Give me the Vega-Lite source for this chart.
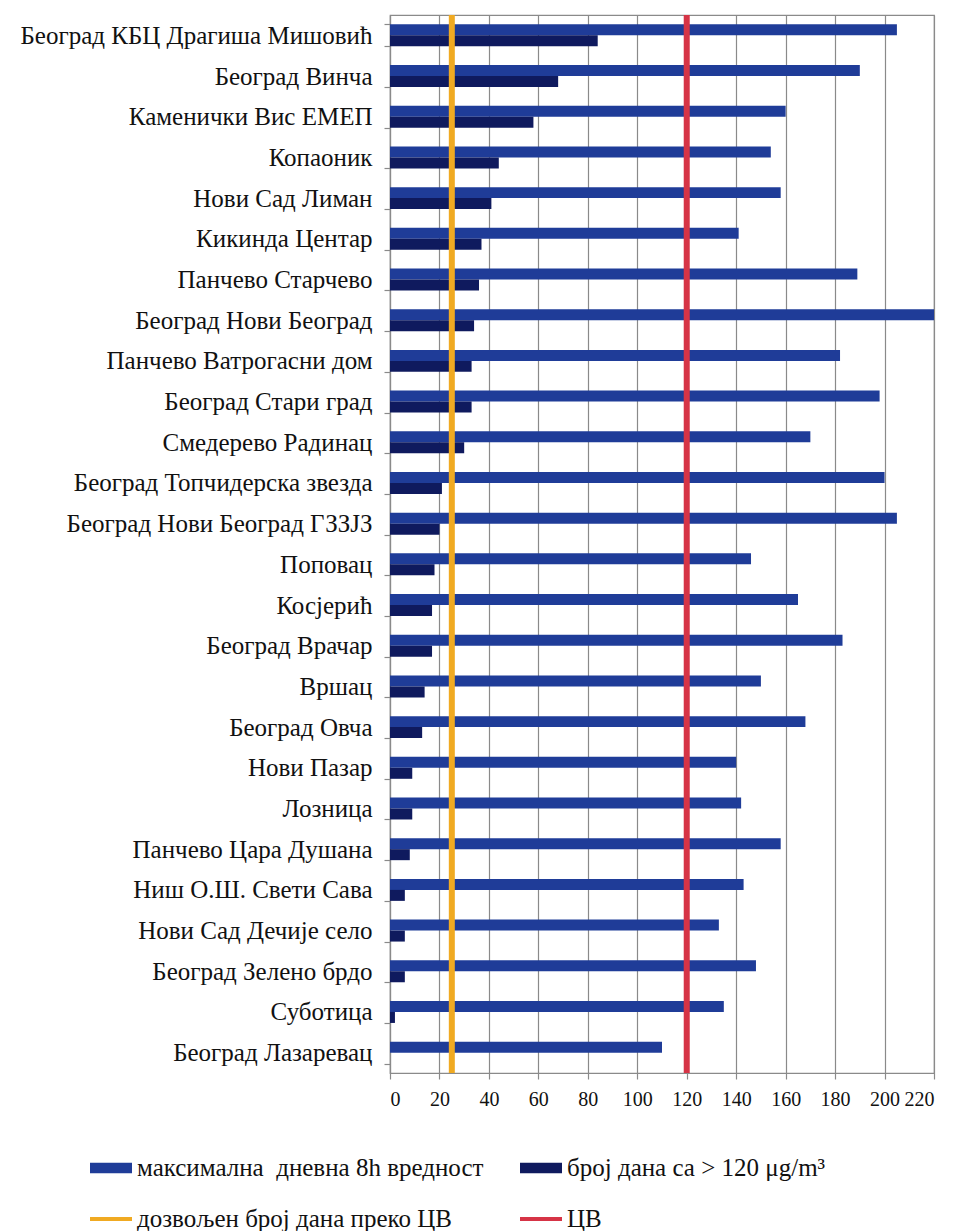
{
  "$schema": "https://vega.github.io/schema/vega-lite/v6.json",
  "width": 544,
  "height": 1058,
  "autosize": {"type": "none"},
  "padding": {"left": 390, "top": 15, "right": 21, "bottom": 158},
  "background": "white",
  "config": {
    "font": "Liberation Serif",
    "view": {"stroke": "#8a8a8a", "strokeWidth": 1.2},
    "axis": {"labelFont": "Liberation Serif", "labelColor": "#111111", "domainColor": "#8a8a8a", "tickColor": "#8a8a8a", "domainWidth": 1.2, "tickWidth": 1.2},
    "legend": {"labelFont": "Liberation Serif"}
  },
  "datasets": {
    "bars": [
      {"station": "Београд КБЦ Драгиша Мишовић", "series": "максимална\u00a0 дневна 8h вредност", "value": 205},
      {"station": "Београд КБЦ Драгиша Мишовић", "series": "број дана са  > 120 μg/m³", "value": 84},
      {"station": "Београд Винча", "series": "максимална\u00a0 дневна 8h вредност", "value": 190},
      {"station": "Београд Винча", "series": "број дана са  > 120 μg/m³", "value": 68},
      {"station": "Каменички Вис ЕМЕП", "series": "максимална\u00a0 дневна 8h вредност", "value": 160},
      {"station": "Каменички Вис ЕМЕП", "series": "број дана са  > 120 μg/m³", "value": 58},
      {"station": "Копаоник", "series": "максимална\u00a0 дневна 8h вредност", "value": 154},
      {"station": "Копаоник", "series": "број дана са  > 120 μg/m³", "value": 44},
      {"station": "Нови Сад Лиман", "series": "максимална\u00a0 дневна 8h вредност", "value": 158},
      {"station": "Нови Сад Лиман", "series": "број дана са  > 120 μg/m³", "value": 41},
      {"station": "Кикинда Центар", "series": "максимална\u00a0 дневна 8h вредност", "value": 141},
      {"station": "Кикинда Центар", "series": "број дана са  > 120 μg/m³", "value": 37},
      {"station": "Панчево Старчево", "series": "максимална\u00a0 дневна 8h вредност", "value": 189},
      {"station": "Панчево Старчево", "series": "број дана са  > 120 μg/m³", "value": 36},
      {"station": "Београд Нови Београд", "series": "максимална\u00a0 дневна 8h вредност", "value": 220},
      {"station": "Београд Нови Београд", "series": "број дана са  > 120 μg/m³", "value": 34},
      {"station": "Панчево Ватрогасни дом", "series": "максимална\u00a0 дневна 8h вредност", "value": 182},
      {"station": "Панчево Ватрогасни дом", "series": "број дана са  > 120 μg/m³", "value": 33},
      {"station": "Београд Стари град", "series": "максимална\u00a0 дневна 8h вредност", "value": 198},
      {"station": "Београд Стари град", "series": "број дана са  > 120 μg/m³", "value": 33},
      {"station": "Смедерево Радинац", "series": "максимална\u00a0 дневна 8h вредност", "value": 170},
      {"station": "Смедерево Радинац", "series": "број дана са  > 120 μg/m³", "value": 30},
      {"station": "Београд Топчидерска звезда", "series": "максимална\u00a0 дневна 8h вредност", "value": 200},
      {"station": "Београд Топчидерска звезда", "series": "број дана са  > 120 μg/m³", "value": 21},
      {"station": "Београд Нови Београд ГЗЗЈЗ", "series": "максимална\u00a0 дневна 8h вредност", "value": 205},
      {"station": "Београд Нови Београд ГЗЗЈЗ", "series": "број дана са  > 120 μg/m³", "value": 20},
      {"station": "Поповац", "series": "максимална\u00a0 дневна 8h вредност", "value": 146},
      {"station": "Поповац", "series": "број дана са  > 120 μg/m³", "value": 18},
      {"station": "Косјерић", "series": "максимална\u00a0 дневна 8h вредност", "value": 165},
      {"station": "Косјерић", "series": "број дана са  > 120 μg/m³", "value": 17},
      {"station": "Београд Врачар", "series": "максимална\u00a0 дневна 8h вредност", "value": 183},
      {"station": "Београд Врачар", "series": "број дана са  > 120 μg/m³", "value": 17},
      {"station": "Вршац", "series": "максимална\u00a0 дневна 8h вредност", "value": 150},
      {"station": "Вршац", "series": "број дана са  > 120 μg/m³", "value": 14},
      {"station": "Београд Овча", "series": "максимална\u00a0 дневна 8h вредност", "value": 168},
      {"station": "Београд Овча", "series": "број дана са  > 120 μg/m³", "value": 13},
      {"station": "Нови Пазар", "series": "максимална\u00a0 дневна 8h вредност", "value": 140},
      {"station": "Нови Пазар", "series": "број дана са  > 120 μg/m³", "value": 9},
      {"station": "Лозница", "series": "максимална\u00a0 дневна 8h вредност", "value": 142},
      {"station": "Лозница", "series": "број дана са  > 120 μg/m³", "value": 9},
      {"station": "Панчево Цара Душана", "series": "максимална\u00a0 дневна 8h вредност", "value": 158},
      {"station": "Панчево Цара Душана", "series": "број дана са  > 120 μg/m³", "value": 8},
      {"station": "Ниш О.Ш. Свети Сава", "series": "максимална\u00a0 дневна 8h вредност", "value": 143},
      {"station": "Ниш О.Ш. Свети Сава", "series": "број дана са  > 120 μg/m³", "value": 6},
      {"station": "Нови Сад Дечије село", "series": "максимална\u00a0 дневна 8h вредност", "value": 133},
      {"station": "Нови Сад Дечије село", "series": "број дана са  > 120 μg/m³", "value": 6},
      {"station": "Београд Зелено брдо", "series": "максимална\u00a0 дневна 8h вредност", "value": 148},
      {"station": "Београд Зелено брдо", "series": "број дана са  > 120 μg/m³", "value": 6},
      {"station": "Суботица", "series": "максимална\u00a0 дневна 8h вредност", "value": 135},
      {"station": "Суботица", "series": "број дана са  > 120 μg/m³", "value": 2},
      {"station": "Београд Лазаревац", "series": "максимална\u00a0 дневна 8h вредност", "value": 110},
      {"station": "Београд Лазаревац", "series": "број дана са  > 120 μg/m³", "value": 0}
    ],
    "limits": [
      {"series": "дозвољен број дана преко ЦВ", "value": 25},
      {"series": "ЦВ", "value": 120}
    ]
  },
  "resolve": {"legend": {"color": "independent", "shape": "independent"}},
  "layer": [
    {
      "data": {"name": "bars"},
      "mark": {"type": "bar"},
      "encoding": {
        "y": {
          "field": "station", "type": "nominal", "sort": null, "title": null,
          "scale": {"paddingInner": 0.46, "paddingOuter": 0.23},
          "axis": {"labelFontSize": 25, "tickBand": "extent", "tickSize": 6, "labelPadding": 12, "labelLimit": 500, "grid": false}
        },
        "yOffset": {
          "field": "series", "type": "nominal", "sort": null,
          "scale": {"domain": ["максимална\u00a0 дневна 8h вредност", "број дана са  > 120 μg/m³"], "paddingInner": 0, "paddingOuter": 0}
        },
        "x": {
          "field": "value", "type": "quantitative", "title": null,
          "scale": {"domain": [0, 220], "nice": false},
          "axis": {"values": [0, 20, 40, 60, 80, 100, 120, 140, 160, 180, 200, 220], "labelOverlap": false, "grid": true, "gridColor": "#8a8a8a", "gridWidth": 1.2, "labelFontSize": 20, "labelPadding": 10, "tickSize": 6}
        },
        "color": {
          "field": "series", "type": "nominal", "legend": null,
          "scale": {
            "domain": ["максимална\u00a0 дневна 8h вредност", "број дана са  > 120 μg/m³", "дозвољен број дана преко ЦВ", "ЦВ"],
            "range": ["#1f3c98", "#0f1a5e", "#f0aa22", "#d63446"]
          }
        }
      }
    },
    {
      "data": {"name": "limits"},
      "mark": {"type": "rule", "strokeWidth": 6},
      "encoding": {
        "x": {"field": "value", "type": "quantitative"},
        "color": {"field": "series", "type": "nominal", "legend": null}
      }
    },
    {
      "data": {"name": "limits"},
      "transform": [{"filter": "false"}],
      "mark": {"type": "point", "filled": true},
      "encoding": {
        "x": {"field": "value", "type": "quantitative"},
        "color": {
          "field": "series", "type": "nominal", "title": null,
          "legend": {"orient": "none", "direction": "horizontal", "legendX": -300, "legendY": 1132, "columns": 2, "symbolSize": 1764, "labelFontSize": 25, "labelColor": "#111111", "columnPadding": 36, "rowPadding": 17, "symbolStrokeWidth": 0, "labelLimit": 500, "labelOffset": 5, "padding": 0, "symbolOpacity": 1}
        },
        "shape": {
          "field": "series", "type": "nominal", "title": null,
          "scale": {
            "domain": ["максимална\u00a0 дневна 8h вредност", "број дана са  > 120 μg/m³", "дозвољен број дана преко ЦВ", "ЦВ"],
            "range": ["M-1,-0.25H1V0.25H-1Z", "M-1,-0.25H1V0.25H-1Z", "M-1,-0.1H1V0.1H-1Z", "M-1,-0.1H1V0.1H-1Z"]
          },
          "legend": {"orient": "none", "direction": "horizontal", "legendX": -300, "legendY": 1132, "columns": 2, "symbolSize": 1764, "labelFontSize": 25, "labelColor": "#111111", "columnPadding": 36, "rowPadding": 17, "symbolStrokeWidth": 0, "labelLimit": 500, "labelOffset": 5, "padding": 0, "symbolOpacity": 1}
        }
      }
    }
  ]
}
